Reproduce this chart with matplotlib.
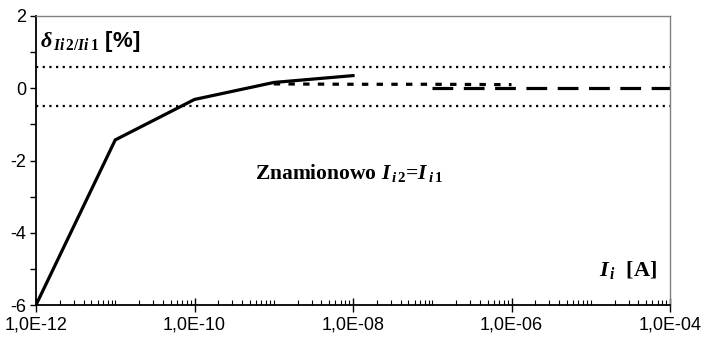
import matplotlib
matplotlib.use("Agg")
import matplotlib.pyplot as plt
from matplotlib.ticker import LogLocator, FixedLocator, MultipleLocator, NullFormatter

plt.rcParams['font.family'] = ['Liberation Sans', 'DejaVu Sans']
plt.rcParams['mathtext.fontset'] = 'custom'
plt.rcParams['mathtext.rm'] = 'Liberation Serif:bold'
plt.rcParams['mathtext.it'] = 'Liberation Serif:bold:italic'
plt.rcParams['mathtext.bf'] = 'Liberation Serif:bold'

# data
x_solid = [1e-12, 1e-11, 1e-10, 1e-9, 1e-8]
y_solid = [-6.0, -1.43, -0.31, 0.16, 0.35]
x_short = [1e-9, 1e-8, 1e-7, 1e-6]
y_short = [0.12, 0.11, 0.11, 0.10]
x_long = [1e-7, 1e-6, 1e-5, 1e-4]
y_long = [0.0, 0.0, 0.0, 0.0]
limit_upper = 0.6
limit_lower = -0.5
x_major = [1e-12, 1e-10, 1e-8, 1e-6, 1e-4]
x_labels = ["1,0E-12", "1,0E-10", "1,0E-08", "1,0E-06", "1,0E-04"]
y_major = [-6, -4, -2, 0, 2]

fig = plt.figure(figsize=(7.03, 3.42), dpi=100)
ax = fig.add_axes([36/703, 1-305/342, (670-36)/703, (305-16)/342])
ax.set_xscale('log')
ax.set_xlim(1e-12, 1e-4)
ax.set_ylim(-6, 2)

ax.axhline(limit_upper, color='black', lw=1.6, dashes=(1, 2))
ax.axhline(limit_lower, color='black', lw=1.6, dashes=(1, 2))
ax.plot(x_long, y_long, color='black', lw=2.3, dashes=(6.5, 3.3), solid_capstyle='butt')
ax.plot(x_short, y_short, color='black', lw=2.3, dashes=(2.0, 2.6))
ax.plot(x_solid, y_solid, color='black', lw=2.3, solid_joinstyle='miter')

# ticks
ax.xaxis.set_major_locator(FixedLocator(x_major))
ax.set_xticklabels(x_labels)
ax.xaxis.set_minor_locator(LogLocator(base=10, subs=[1, 2, 3, 4, 5, 6, 7, 8, 9], numticks=100))
ax.xaxis.set_minor_formatter(NullFormatter())
ax.tick_params(axis='x', which='major', direction='inout', length=10, width=1, labelsize=13, pad=3)
ax.tick_params(axis='x', which='minor', direction='in', length=3.5, width=0.8)

ax.set_yticks(y_major)
ax.set_yticklabels([str(v) for v in y_major])
ax.yaxis.set_minor_locator(MultipleLocator(1))
ax.tick_params(axis='y', which='major', direction='out', length=4, width=1, labelsize=13, pad=3)
ax.tick_params(axis='y', which='minor', direction='out', length=4, width=1)

for s in ['left', 'bottom']:
    ax.spines[s].set_linewidth(1.3)
    ax.spines[s].set_color('black')
for s in ['top', 'right']:
    ax.spines[s].set_linewidth(1.0)
    ax.spines[s].set_color('#808080')

# texts
fig.text(40/703, 1-42/342, r"$\delta_{\,Ii\,2/Ii\,1}$ [%]", fontsize=16,
         fontweight='bold', fontfamily='Liberation Sans', ha='left', va='center')
fig.text(349/703, 1-173/342, r"Znamionowo $I_{\,i\,2}$=$I_{\,i\,1}$",
         fontsize=15.5, fontweight='bold', fontfamily='Liberation Serif', ha='center', va='center')
fig.text(657/703, 1-270/342, r"$I_{\,i}$  [A]",
         fontsize=16, fontweight='bold', fontfamily='Liberation Serif', ha='right', va='center')

fig.savefig("out.png", dpi=100)
